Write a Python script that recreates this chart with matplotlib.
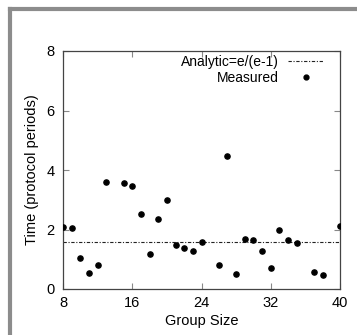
import numpy as np
import matplotlib
matplotlib.use("Agg")
import matplotlib.pyplot as plt
from matplotlib.lines import Line2D

# data
group_size = [8, 9, 10, 11, 12, 13, 15, 16, 17, 18, 19, 20, 21, 22, 23, 24,
              26, 27, 28, 29, 30, 31, 32, 33, 34, 35, 37, 38, 40]
time_measured = [2.09, 2.06, 1.05, 0.53, 0.82, 3.60, 3.55, 3.45, 2.53, 1.17,
                 2.36, 2.99, 1.48, 1.39, 1.28, 1.58, 0.81, 4.47, 0.51, 1.67,
                 1.66, 1.29, 0.70, 1.99, 1.64, 1.54, 0.58, 0.47, 2.13]
analytic = np.e / (np.e - 1)
x_ticks = [8, 16, 24, 32, 40]
y_ticks = [0, 2, 4, 6, 8]

plt.rcParams['font.family'] = ['Liberation Sans', 'DejaVu Sans']
dashdot = (0, (3, 1.5, 1, 1.5))

fig = plt.figure(figsize=(3.57, 3.35), dpi=100)
ax = fig.add_axes([63 / 357, 1 - 289 / 335, 277 / 357, 238 / 335])

ax.axhline(analytic, color='#222222', lw=0.8, ls=dashdot, zorder=2)
ax.scatter(group_size, time_measured, s=14, color='black', zorder=3)

ax.set_xlim(8, 40)
ax.set_ylim(0, 8)
ax.set_xticks(x_ticks)
ax.set_yticks(y_ticks)
ax.tick_params(direction='in', top=True, right=True, length=4, width=0.8,
               color='#888888', labelsize=10.5, pad=5)
ax.tick_params(axis='y', pad=6)
for sp in ax.spines.values():
    sp.set_color('#444444')
    sp.set_linewidth(0.9)

ax.set_xlabel('Group Size', fontsize=10.5, labelpad=3)
ax.set_ylabel('Time (protocol periods)', fontsize=10.5, labelpad=5)

handles = [Line2D([], [], color='#222222', lw=0.8, ls=dashdot),
           Line2D([], [], color='black', marker='o', ms=3.5, ls='none')]
ax.legend(handles, ['Analytic=e/(e-1)', 'Measured'], loc='upper right',
          bbox_to_anchor=(324 / 357, 1 - 55 / 335), bbox_transform=fig.transFigure,
          frameon=False, fontsize=10, markerfirst=False, handlelength=2.6,
          borderaxespad=0, borderpad=0, labelspacing=0.15, handletextpad=0.65)

# gray L-shaped frame around the chart
fig.add_artist(Line2D([10 / 357, 1], [1 - 9 / 335, 1 - 9 / 335],
                      color='#8c8c8c', lw=3, transform=fig.transFigure))
fig.add_artist(Line2D([10 / 357, 10 / 357], [0, 1 - 9 / 335],
                      color='#8c8c8c', lw=3, transform=fig.transFigure))

fig.savefig('out.png', dpi=100)
